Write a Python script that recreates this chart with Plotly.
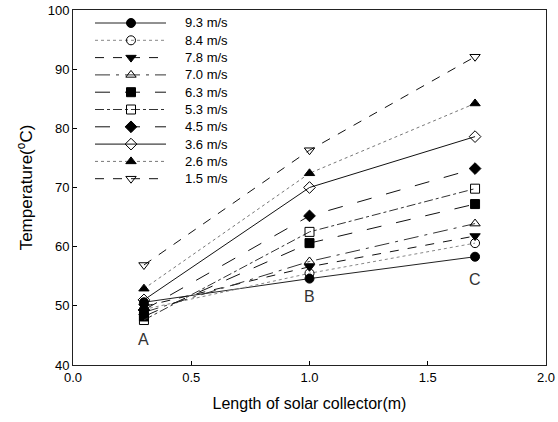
import plotly.graph_objects as go

x_pos = [0.3, 1.0, 1.7]
speeds = ["9.3 m/s", "8.4 m/s", "7.8 m/s", "7.0 m/s", "6.3 m/s",
          "5.3 m/s", "4.5 m/s", "3.6 m/s", "2.6 m/s", "1.5 m/s"]
t_93 = [50.6, 54.6, 58.3]
t_84 = [49.4, 55.5, 60.6]
t_78 = [49.9, 56.6, 61.8]
t_70 = [48.9, 57.5, 63.9]
t_63 = [48.2, 60.6, 67.2]
t_53 = [47.6, 62.5, 69.8]
t_45 = [49.3, 65.2, 73.2]
t_36 = [51.0, 70.0, 78.6]
t_26 = [52.9, 72.4, 84.2]
t_15 = [56.9, 76.3, 92.1]
series = [t_93, t_84, t_78, t_70, t_63, t_53, t_45, t_36, t_26, t_15]

symbols = ["circle", "circle-open", "triangle-down", "triangle-up-open", "square",
           "square-open", "diamond", "diamond-open", "triangle-up", "triangle-down-open"]
dashes = ["solid", "dot", "dash", "longdashdot", "longdash",
          "dashdot", "longdash", "solid", "dot", "dash"]
line_colors = ["#222", "#888", "#111", "#333", "#111", "#333", "#111", "#111", "#777", "#111"]

point_labels = ["A", "B", "C"]
label_y = [44.3, 51.5, 54.5]

# layout geometry (pixels)
W, H = 558, 422
L, R, T, B = 73, 12, 10, 57
PW, PH = W - L - R, H - T - B

def px_x(p):
    return (p - L) / PW

def px_y(p):
    return 1 - (p - T) / PH

# custom legend geometry (pixels)
leg_x0, leg_x1, leg_xm, leg_xt = 95, 166, 131, 183
leg_y0, leg_dy = 23, 17.3

fig = go.Figure()
for name, ys, sym, dsh, lc in zip(speeds, series, symbols, dashes, line_colors):
    fig.add_trace(go.Scatter(
        x=x_pos, y=ys, name=name, mode="lines+markers",
        line=dict(color=lc, width=1, dash=dsh),
        marker=dict(symbol=sym, size=9, color="black",
                    line=dict(color="black", width=1)),
        showlegend=False,
    ))

# legend samples on an overlay axis spanning the plot area in paper units
for i, (name, sym, dsh, lc) in enumerate(zip(speeds, symbols, dashes, line_colors)):
    yr = px_y(leg_y0 + i * leg_dy)
    fig.add_trace(go.Scatter(
        x=[px_x(leg_x0), px_x(leg_x1)], y=[yr, yr], mode="lines",
        line=dict(color=lc, width=1, dash=dsh), xaxis="x2", yaxis="y2",
        showlegend=False, hoverinfo="skip",
    ))
    fig.add_trace(go.Scatter(
        x=[px_x(leg_xm)], y=[yr], mode="markers",
        marker=dict(symbol=sym, size=9, color="black", line=dict(color="black", width=1)),
        xaxis="x2", yaxis="y2", showlegend=False, hoverinfo="skip",
    ))
    fig.add_annotation(x=px_x(leg_xt), y=yr, xref="paper", yref="paper",
                       text=name, showarrow=False, xanchor="left", yanchor="middle",
                       font=dict(family="Liberation Sans", size=13, color="black"))

for xp, yp, lab in zip(x_pos, label_y, point_labels):
    fig.add_annotation(x=xp, y=yp, text=lab, showarrow=False,
                       font=dict(family="Liberation Sans", size=16, color="#333"))

fig.update_layout(
    width=W, height=H,
    margin=dict(l=L, r=R, t=T, b=B, autoexpand=False),
    paper_bgcolor="white", plot_bgcolor="white",
    font=dict(family="Liberation Sans", size=13, color="black"),
    showlegend=False,
    xaxis2=dict(overlaying="x", range=[0, 1], visible=False, fixedrange=True),
    yaxis2=dict(overlaying="y", range=[0, 1], visible=False, fixedrange=True),
)
fig.update_xaxes(selector=dict(overlaying=None))
fig.layout.xaxis.update(range=[0, 2], dtick=0.5, tickformat=".1f",
                        ticks="inside", ticklen=4, tickcolor="black",
                        showline=True, linecolor="#222", linewidth=1, mirror=True,
                        showgrid=False, zeroline=False, automargin=False,
                        title=dict(text="Length of solar collector(m)", font=dict(size=16), standoff=14))
fig.layout.yaxis.update(range=[40, 100], dtick=10,
                        ticks="inside", ticklen=4, tickcolor="black",
                        showline=True, linecolor="#222", linewidth=1, mirror=True,
                        showgrid=False, zeroline=False, automargin=False,
                        title=dict(text="Temperature(<sup>o</sup>C)", font=dict(size=17), standoff=10))

fig.write_html("out.html")
